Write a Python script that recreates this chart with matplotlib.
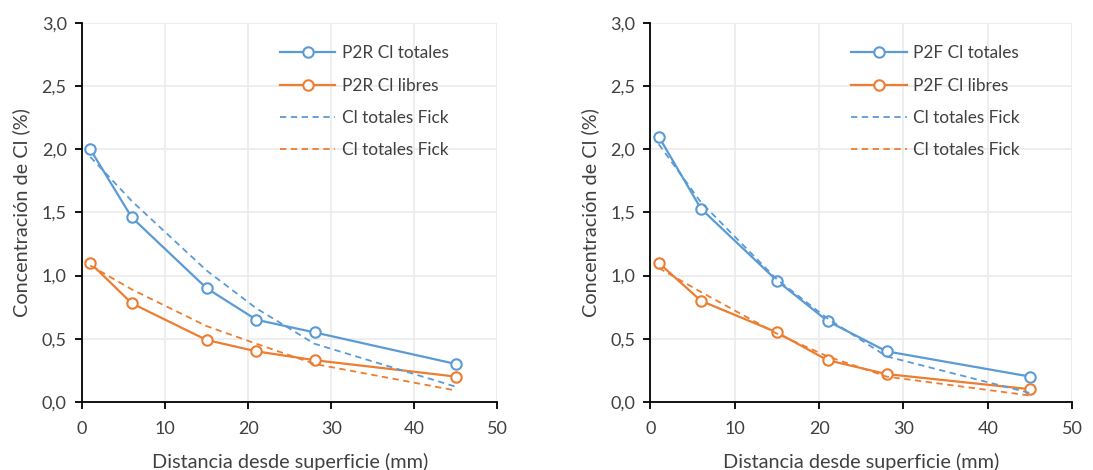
import matplotlib.pyplot as plt

# ── datos ─────────────────────────────────────────────────────────────────────
DIST = [1, 6, 15, 21, 28, 45]  # mm

P2R_TOT = [2.00, 1.46, 0.90, 0.65, 0.55, 0.30]
P2R_LIB = [1.10, 0.78, 0.49, 0.40, 0.33, 0.20]
P2R_TOT_FICK = [1.94, 1.59, 1.04, 0.74, 0.46, 0.12]
P2R_LIB_FICK = [1.08, 0.89, 0.60, 0.46, 0.30, 0.09]

P2F_TOT = [2.10, 1.53, 0.96, 0.64, 0.40, 0.20]
P2F_LIB = [1.10, 0.80, 0.55, 0.33, 0.22, 0.10]
P2F_TOT_FICK = [2.04, 1.58, 0.97, 0.66, 0.36, 0.07]
P2F_LIB_FICK = [1.06, 0.87, 0.54, 0.36, 0.20, 0.05]

BLUE = "#5B9BD5"
ORANGE = "#ED7D31"

plt.rcParams.update({
    "font.family": ["Lato", "DejaVu Sans"],
    "font.size": 12,
})


def panel(ax, tag, tot, lib, tot_fick, lib_fick):
    mk = dict(marker="o", markersize=7.5, markerfacecolor="white", markeredgewidth=1.5)
    ax.plot(DIST, tot, color=BLUE, lw=1.6, label=f"{tag} Cl totales", **mk)
    ax.plot(DIST, lib, color=ORANGE, lw=1.6, label=f"{tag} Cl libres", **mk)
    ax.plot(DIST, tot_fick, color=BLUE, lw=1.3, ls=(0, (3.5, 2.5)), label="Cl totales Fick")
    ax.plot(DIST, lib_fick, color=ORANGE, lw=1.3, ls=(0, (3.5, 2.5)), label="Cl totales Fick")

    ax.set_xlim(0, 50)
    ax.set_ylim(0, 3.0)
    ax.set_xticks(range(0, 51, 10))
    ax.set_yticks([i * 0.5 for i in range(7)])
    ax.set_yticklabels([f"{i * 0.5:.1f}".replace(".", ",") for i in range(7)])
    ax.grid(True, color="#ebebeb", lw=1.2)
    ax.set_axisbelow(True)
    for s in ("top", "right"):
        ax.spines[s].set_visible(False)
    for s in ("left", "bottom"):
        ax.spines[s].set_linewidth(1.3)
        ax.spines[s].set_color("black")
    ax.tick_params(direction="out", length=5, width=1.3, labelsize=13, pad=6,
                   colors="black", labelcolor="#404040")
    ax.tick_params(axis="x", pad=9)
    ax.set_xlabel("Distancia desde superficie (mm)", fontsize=14.3, color="#404040", labelpad=11)
    ax.set_ylabel("Concentración de Cl (%)", fontsize=14.3, color="#404040", labelpad=8)
    ax.legend(loc="upper left", bbox_to_anchor=(0.44, 0.982), frameon=False,
              handlelength=3.2, handletextpad=0.4, labelspacing=0.95, fontsize=12.4,
              labelcolor="#404040")


fig = plt.figure(figsize=(10.93, 4.70), dpi=100)
ax1 = fig.add_axes([0.075, 0.145, 0.380, 0.806])
ax2 = fig.add_axes([0.595, 0.145, 0.386, 0.806])

panel(ax1, "P2R", P2R_TOT, P2R_LIB, P2R_TOT_FICK, P2R_LIB_FICK)
panel(ax2, "P2F", P2F_TOT, P2F_LIB, P2F_TOT_FICK, P2F_LIB_FICK)

fig.savefig("out.png", dpi=100)
